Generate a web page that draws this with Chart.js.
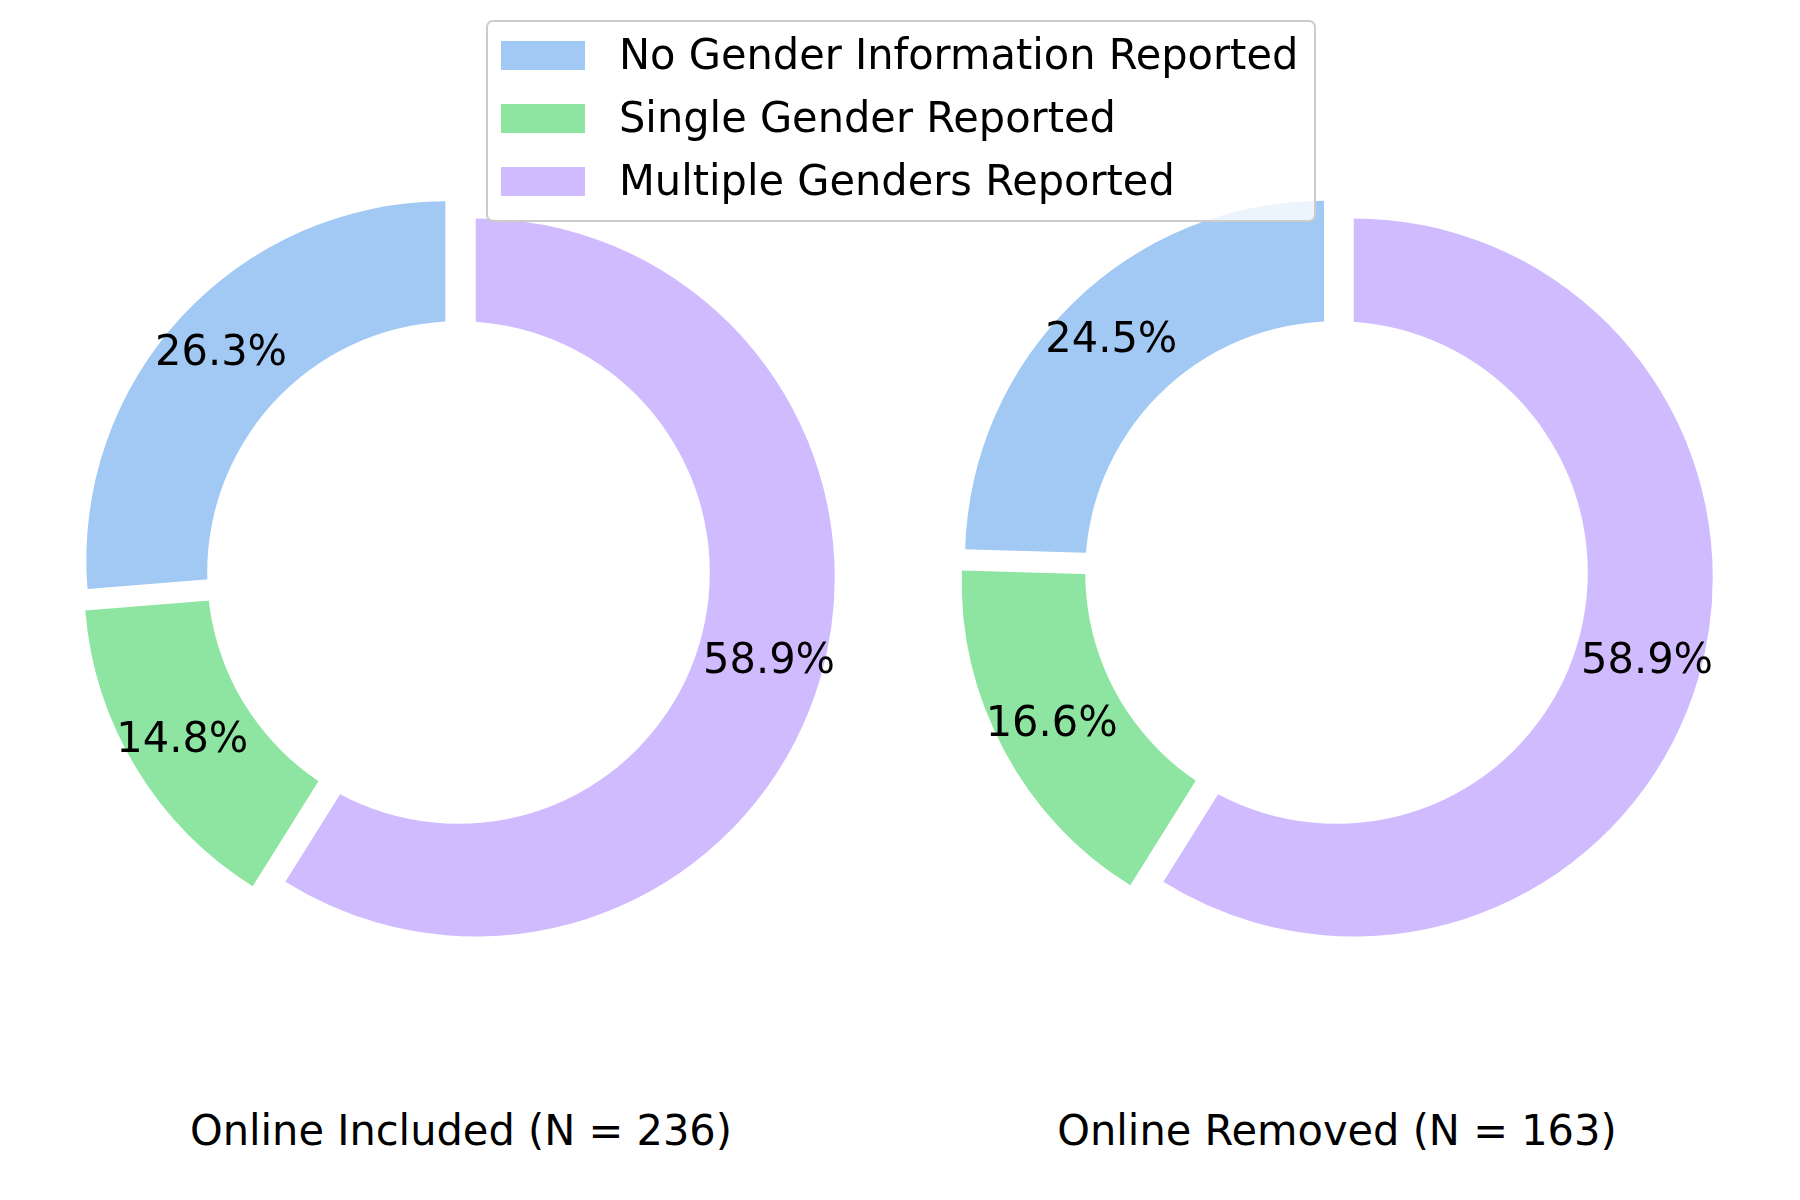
<!DOCTYPE html>
<html>
<head>
<meta charset="utf-8">
<script src="https://cdn.jsdelivr.net/npm/chart.js@4.4.1/dist/chart.umd.min.js"></script>
<style>
  html, body { margin: 0; padding: 0; background: #ffffff; }
  #wrap { position: relative; width: 1800px; height: 1200px; overflow: hidden; font-family: "DejaVu Sans", sans-serif; color: #000; }
  canvas.cv { position: absolute; top: 152px; width: 841px; height: 841px; }
  #c1 { left: 38px; }
  #c2 { left: 916px; }
  .title { position: absolute; top: 1105px; width: 840px; text-align: center; font-size: 43.5px; line-height: 50px; white-space: nowrap; transform: scaleX(0.955); transform-origin: 50% 50%; }
  #t1 { left: 41px; }
  #t2 { left: 917px; }
  #legend { position: absolute; left: 486px; top: 20px; width: 830px; height: 202px; box-sizing: border-box; border: 2px solid #cccccc; border-radius: 7px; background: rgba(255,255,255,0.8); z-index: 5; }
  .sw { position: absolute; left: 13px; width: 84px; height: 29px; }
  .lt { position: absolute; left: 131px; font-size: 43.5px; line-height: 50px; white-space: nowrap; transform: scaleX(0.955); transform-origin: 0 50%; }
</style>
</head>
<body>
<div id="wrap">
  <canvas id="c1" class="cv" width="841" height="841"></canvas>
  <canvas id="c2" class="cv" width="841" height="841"></canvas>
  <div id="t1" class="title"></div>
  <div id="t2" class="title"></div>
  <div id="legend"></div>
</div>
<script>
// ---- data ----
const categories = ["No Gender Information Reported", "Single Gender Reported", "Multiple Genders Reported"];
const colors = ["#a1c9f4", "#8de5a1", "#d0bbff"];
const includedCounts = [62, 35, 139];   // N = 236
const removedCounts = [40, 27, 96];     // N = 163
const panelTitles = ["Online Included (N = 236)", "Online Removed (N = 163)"];

// ---- legend (HTML, built from arrays) ----
const legend = document.getElementById('legend');
categories.forEach((c, i) => {
  const sw = document.createElement('div');
  sw.className = 'sw';
  sw.style.top = (19 + i * 63) + 'px';
  sw.style.background = colors[i];
  legend.appendChild(sw);
  const t = document.createElement('div');
  t.className = 'lt';
  t.style.top = (7 + i * 63) + 'px';
  t.textContent = c;
  legend.appendChild(t);
});
document.getElementById('t1').textContent = panelTitles[0];
document.getElementById('t2').textContent = panelTitles[1];

// ---- plugin: exploded wedges, centre hole, percentage labels ----
const explodePlugin = {
  id: 'explode',
  beforeDatasetDraw(chart, args, opts) {
    const ctx = chart.ctx;
    args.meta.data.forEach(arc => {
      const mid = (arc.startAngle + arc.endAngle) / 2;
      const d = opts.fraction * arc.outerRadius;
      ctx.save();
      ctx.translate(Math.cos(mid) * d, Math.sin(mid) * d);
      arc.draw(ctx, chart.chartArea);
      ctx.restore();
    });
    return false;
  },
  afterDatasetsDraw(chart, args, opts) {
    const ctx = chart.ctx;
    const meta = chart.getDatasetMeta(0);
    const ds = chart.data.datasets[0].data;
    const total = ds.reduce((a, b) => a + b, 0);
    const first = meta.data[0];
    // white centre circle
    ctx.save();
    ctx.fillStyle = '#ffffff';
    ctx.beginPath();
    ctx.arc(first.x, first.y, opts.hole * first.outerRadius, 0, Math.PI * 2);
    ctx.fill();
    ctx.restore();
    // labels
    const fs = 43.5;
    meta.data.forEach((arc, i) => {
      const mid = (arc.startAngle + arc.endAngle) / 2;
      const r = (opts.pctDistance + opts.fraction) * arc.outerRadius;
      const txt = (ds[i] / total * 100).toFixed(1) + '%';
      ctx.save();
      ctx.font = fs + 'px "DejaVu Sans"';
      ctx.fillStyle = '#000';
      ctx.textAlign = 'center';
      ctx.textBaseline = 'alphabetic';
      ctx.translate(arc.x + Math.cos(mid) * r, arc.y + Math.sin(mid) * r + 0.264 * fs);
      ctx.scale(0.955, 1);
      ctx.fillText(txt, 0, 0);
      ctx.restore();
    });
  }
};

function makeChart(id, counts) {
  const order = [2, 1, 0]; // Chart.js draws clockwise from the top
  return new Chart(document.getElementById(id), {
    type: 'pie',
    data: {
      labels: order.map(i => categories[i]),
      datasets: [{
        data: order.map(i => counts[i]),
        backgroundColor: order.map(i => colors[i]),
        borderWidth: 0,
        hoverOffset: 0
      }]
    },
    options: {
      responsive: false,
      animation: false,
      devicePixelRatio: 1,
      events: [],
      radius: 359,
      layout: { padding: 0 },
      plugins: {
        legend: { display: false },
        tooltip: { enabled: false },
        explode: { fraction: 0.05, pctDistance: 0.85, hole: 0.70 }
      }
    },
    plugins: [explodePlugin]
  });
}

makeChart('c1', includedCounts);
makeChart('c2', removedCounts);
</script>
</body>
</html>
